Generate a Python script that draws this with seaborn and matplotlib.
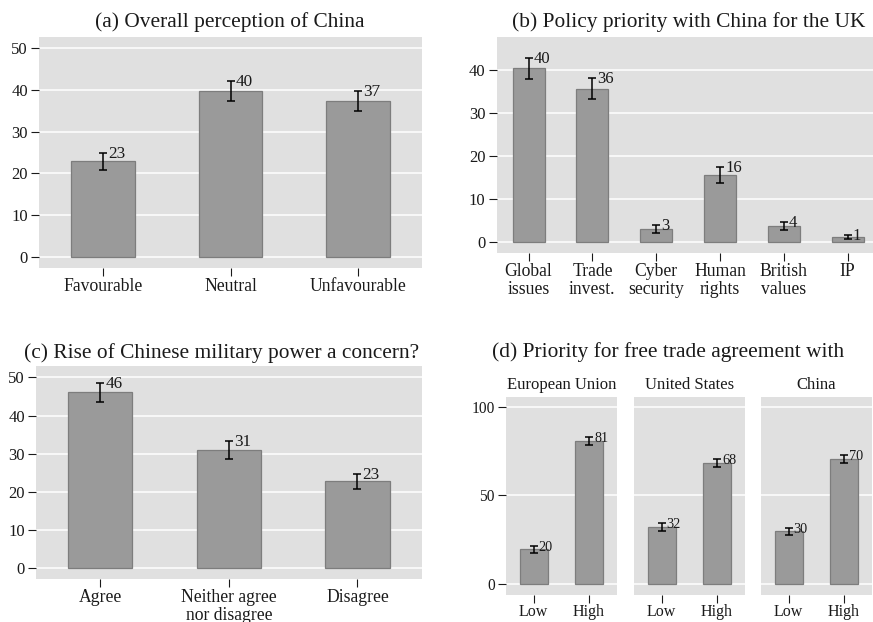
import matplotlib
matplotlib.use("Agg")
import matplotlib.pyplot as plt
import seaborn as sns

# ---- data (percentages with 95% CI half-widths) ----
perception_cats = ["Favourable", "Neutral", "Unfavourable"]
perception_vals = [22.9, 39.7, 37.3]
perception_moe = [2.1, 2.4, 2.4]

policy_cats = ["Global\nissues", "Trade\ninvest.", "Cyber\nsecurity",
               "Human\nrights", "British\nvalues", "IP"]
policy_vals = [40.3, 35.6, 3.1, 15.6, 3.8, 1.2]
policy_moe = [2.5, 2.45, 0.9, 1.85, 1.0, 0.55]

military_cats = ["Agree", "Neither agree\nnor disagree", "Disagree"]
military_vals = [46.1, 30.9, 22.7]
military_moe = [2.55, 2.35, 2.05]

fta_partners = ["European Union", "United States", "China"]
fta_levels = ["Low", "High"]
fta_eu = [19.6, 80.6]
fta_us = [32.1, 68.1]
fta_china = [29.8, 70.4]
fta_eu_moe = [2.1, 2.1]
fta_us_moe = [2.2, 2.25]
fta_china_moe = [2.15, 2.15]

# ---- style ----
BG = "#e0e0e0"
BAR = "#9a9a9a"
EDGE = "#7d7d7d"
INK = "#1a1a1a"

sns.set_style("white", {"axes.facecolor": BG})
plt.rcParams["font.family"] = ["Liberation Serif", "DejaVu Serif"]
plt.rcParams["text.color"] = INK
plt.rcParams["xtick.color"] = INK
plt.rcParams["ytick.color"] = INK

W, H = 873, 622
fig = plt.figure(figsize=(W / 100, H / 100), dpi=100)


def px_axes(left, right, top, bottom):
    return fig.add_axes([left / W, 1 - bottom / H, (right - left) / W, (bottom - top) / H])


def draw_bars(ax, cats, vals, moe, ylim, yticks, tick_fs=12, xtick_fs=12.7,
              lab_fs=12.3, cap=3.2, show_y=True):
    sns.barplot(x=cats, y=vals, ax=ax, color=BAR, saturation=1, width=0.5,
                edgecolor=EDGE, linewidth=0.9, errorbar=None)
    xs = list(range(len(cats)))
    ax.errorbar(xs, vals, yerr=moe, fmt="none", ecolor="black",
                elinewidth=1.1, capsize=cap, capthick=1.1, zorder=3)
    for x, v, m in zip(xs, vals, moe):
        ax.annotate(f"{v:.0f}", xy=(x, v + m), xytext=(3.6, -3.6),
                    textcoords="offset points", ha="left", va="baseline",
                    fontsize=lab_fs, color=INK)
    ax.set_ylim(*ylim)
    ax.set_xlim(-0.5, len(cats) - 0.5)
    ax.set_yticks(yticks)
    ax.set_xlabel("")
    ax.set_ylabel("")
    for s in ax.spines.values():
        s.set_visible(False)
    ax.set_axisbelow(True)
    ax.yaxis.grid(True, color="white", linewidth=1.1)
    ax.xaxis.grid(False)
    ax.tick_params(axis="x", direction="out", length=5.5, width=0.8,
                   pad=1.5, labelsize=xtick_fs, bottom=True)
    ax.tick_params(axis="y", direction="out", length=5.5, width=0.8,
                   pad=2.5, labelsize=tick_fs, left=show_y, labelleft=show_y)
    for t in ax.get_xticklabels():
        t.set_linespacing(1.1)


# (a) overall perception
ax_a = px_axes(39, 422, 37, 268)
draw_bars(ax_a, perception_cats, perception_vals, perception_moe,
          (-2.6, 52.6), [0, 10, 20, 30, 40, 50])
fig.text(229.7 / W, 1 - 26.7 / H, "(a) Overall perception of China",
         ha="center", va="baseline", fontsize=15.4)

# (b) policy priority
ax_b = px_axes(496.7, 879.5, 37, 253)
draw_bars(ax_b, policy_cats, policy_vals, policy_moe,
          (-2.5, 47.6), [0, 10, 20, 30, 40], lab_fs=12)
fig.text(689 / W, 1 - 27.3 / H, "(b) Policy priority with China for the UK",
         ha="center", va="baseline", fontsize=15.4)

# (c) military power
ax_c = px_axes(36, 421.7, 366, 579.3)
draw_bars(ax_c, military_cats, military_vals, military_moe,
          (-3.0, 53.0), [0, 10, 20, 30, 40, 50])
fig.text(221.7 / W, 1 - 358.3 / H, "(c) Rise of Chinese military power a concern?",
         ha="center", va="baseline", fontsize=15.4)

# (d) free trade agreement priority, one panel per partner
fta_vals = [fta_eu, fta_us, fta_china]
fta_moe = [fta_eu_moe, fta_us_moe, fta_china_moe]
lefts = [506, 634, 761]
for i, (name, vals, moe, left) in enumerate(zip(fta_partners, fta_vals, fta_moe, lefts)):
    ax = px_axes(left, left + 110.7, 397.3, 594.7)
    draw_bars(ax, fta_levels, vals, moe, (-5.9, 105.3), [0, 50, 100],
              tick_fs=11.2, xtick_fs=11.5, lab_fs=10.3, cap=2.6, show_y=(i == 0))
    fig.text((left + 55.35) / W, 1 - 389.3 / H, name, ha="center",
             va="baseline", fontsize=12)
fig.text(668.5 / W, 1 - 357.3 / H, "(d) Priority for free trade agreement with",
         ha="center", va="baseline", fontsize=15.4)

fig.savefig("out.png", dpi=100, facecolor="white")
